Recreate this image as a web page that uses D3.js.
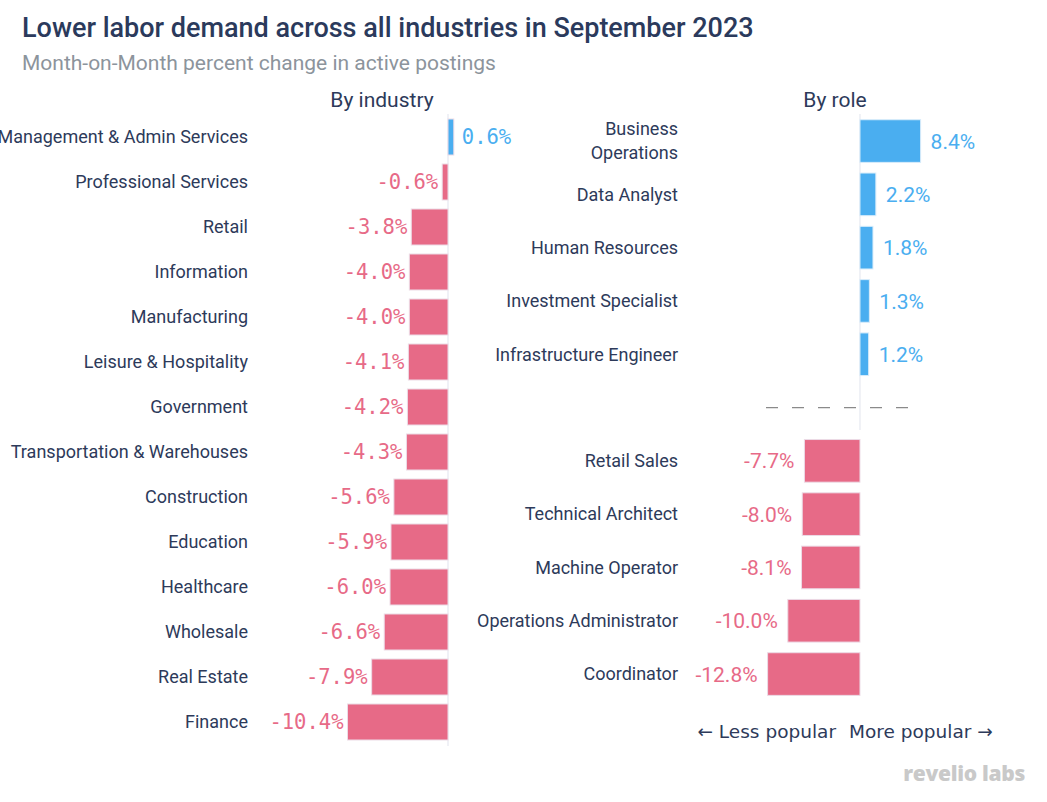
<!DOCTYPE html>
<html><head><meta charset="utf-8">
<script src="https://cdn.jsdelivr.net/npm/d3@7"></script>
<style>
html,body{margin:0;padding:0;background:#fff;}
svg{display:block;}
</style></head>
<body>
<svg id="chart" width="1047" height="802"></svg>
<script>
const industries = ["Management & Admin Services","Professional Services","Retail","Information","Manufacturing","Leisure & Hospitality","Government","Transportation & Warehouses","Construction","Education","Healthcare","Wholesale","Real Estate","Finance"];
const industryValues = [0.6,-0.6,-3.8,-4.0,-4.0,-4.1,-4.2,-4.3,-5.6,-5.9,-6.0,-6.6,-7.9,-10.4];
const roles = ["Business Operations","Data Analyst","Human Resources","Investment Specialist","Infrastructure Engineer","","Retail Sales","Technical Architect","Machine Operator","Operations Administrator","Coordinator"];
const roleValues = [8.4,2.2,1.8,1.3,1.2,null,-7.7,-8.0,-8.1,-10.0,-12.8];
const roleLabelLines = [["Business","Operations"]];

const BLUE = "#4aaef0", PINK = "#e76a87", DARK = "#2d3a5a";
const svg = d3.select("#chart");

svg.append("text").attr("x",22).attr("y",37).text("Lower labor demand across all industries in September 2023")
  .attr("font-family","Roboto").attr("font-weight",500).attr("font-size",27).attr("fill","#2b3a5c");
svg.append("text").attr("x",22).attr("y",69.5).text("Month-on-Month percent change in active postings")
  .attr("font-family","Roboto").attr("font-size",21).attr("fill","#8c949c");

// ---------- Left panel ----------
const xL = d3.scaleLinear().domain([-10.4,0.6]).range([347.5,453.8]);
const yL = d3.scaleBand().domain(industries).range([114.5,744.5]).paddingInner(0.2).paddingOuter(0.1);
const gL = svg.append("g");
gL.append("text").attr("x",382).attr("y",107).attr("text-anchor","middle").text("By industry")
  .attr("font-family","Roboto").attr("font-size",21).attr("fill",DARK);
gL.append("line").attr("x1",xL(0)).attr("x2",xL(0)).attr("y1",114).attr("y2",746)
  .attr("stroke","#e6e8f0").attr("stroke-width",1.2);
const lData = industries.map((d,i)=>({name:d,v:industryValues[i]}));
gL.selectAll("rect.bar").data(lData).join("rect").attr("class","bar")
  .attr("x",d=>xL(Math.min(0,d.v))).attr("width",d=>Math.abs(xL(d.v)-xL(0)))
  .attr("y",d=>yL(d.name)).attr("height",yL.bandwidth())
  .attr("fill",d=>d.v>=0?BLUE:PINK).attr("stroke","#ecdbe6").attr("stroke-width",1);
gL.selectAll("text.lab").data(lData).join("text").attr("class","lab")
  .attr("x",248).attr("y",d=>yL(d.name)+yL.bandwidth()/2).attr("dy","0.35em")
  .attr("text-anchor","end").text(d=>d.name)
  .attr("font-family","Roboto").attr("font-size",18).attr("fill",DARK);
gL.selectAll("text.val").data(lData).join("text").attr("class","val")
  .attr("x",d=>d.v>=0?xL(d.v)+8:xL(d.v)-4)
  .attr("y",d=>yL(d.name)+yL.bandwidth()/2).attr("dy","0.36em")
  .attr("text-anchor",d=>d.v>=0?"start":"end")
  .text(d=>d.v.toFixed(1)+"%")
  .attr("font-family","DejaVu Sans Mono").attr("font-size",20.5).attr("fill",d=>d.v>=0?BLUE:PINK);

// ---------- Right panel ----------
const xR = d3.scaleLinear().domain([-12.8,8.4]).range([767.6,920.6]);
const yR = d3.scaleBand().domain(d3.range(roles.length)).range([114.4,700.7]).paddingInner(0.2).paddingOuter(0.1);
const gR = svg.append("g");
gR.append("text").attr("x",835).attr("y",107).attr("text-anchor","middle").text("By role")
  .attr("font-family","Roboto").attr("font-size",21).attr("fill",DARK);
gR.append("line").attr("x1",xR(0)).attr("x2",xR(0)).attr("y1",114).attr("y2",430)
  .attr("stroke","#e6e8f0").attr("stroke-width",1.2);
const gapIdx = roleValues.indexOf(null);
gR.append("line").attr("x1",766).attr("x2",916)
  .attr("y1",yR(gapIdx)+yR.bandwidth()/2).attr("y2",yR(gapIdx)+yR.bandwidth()/2)
  .attr("stroke","#8a8a8a").attr("stroke-width",1.3).attr("stroke-dasharray","12,14");
const rData = roles.map((d,i)=>({i,name:d,v:roleValues[i]})).filter(d=>d.v!==null);
gR.selectAll("rect.bar").data(rData).join("rect").attr("class","bar")
  .attr("x",d=>xR(Math.min(0,d.v))).attr("width",d=>Math.abs(xR(d.v)-xR(0)))
  .attr("y",d=>yR(d.i)).attr("height",yR.bandwidth())
  .attr("fill",d=>d.v>=0?BLUE:PINK).attr("stroke",d=>d.v>=0?"#d8ecfa":"#ecdbe6").attr("stroke-width",1);
const rl = gR.selectAll("text.lab").data(rData).join("text").attr("class","lab")
  .attr("x",678).attr("y",d=>yR(d.i)+yR.bandwidth()/2)
  .attr("text-anchor","end").attr("font-family","Roboto").attr("font-size",18).attr("fill",DARK);
rl.each(function(d){
  const t = d3.select(this);
  const lines = d.name==="Business Operations" ? roleLabelLines[0] : [d.name];
  const n = lines.length;
  lines.forEach((ln,k)=>{
    t.append("tspan").attr("x",678).attr("dy", k===0 ? (0.35 - (n-1)*0.67)+"em" : "1.34em").text(ln);
  });
});
gR.selectAll("text.val").data(rData).join("text").attr("class","val")
  .attr("x",d=>d.v>=0?xR(d.v)+10:xR(d.v)-10)
  .attr("y",d=>yR(d.i)+yR.bandwidth()/2).attr("dy","0.36em")
  .attr("text-anchor",d=>d.v>=0?"start":"end")
  .text(d=>d.v.toFixed(1)+"%")
  .attr("font-family","Roboto").attr("font-size",21).attr("fill",d=>d.v>=0?BLUE:PINK);

svg.append("text").attr("x",836).attr("y",738).attr("text-anchor","end").text("\u2190 Less popular")
  .attr("font-family","DejaVu Sans").attr("font-size",18.5).attr("fill",DARK);
svg.append("text").attr("x",849).attr("y",738).attr("text-anchor","start").text("More popular \u2192")
  .attr("font-family","DejaVu Sans").attr("font-size",18.5).attr("fill",DARK);

svg.append("text").attr("x",1025).attr("y",781).attr("text-anchor","end").text("revelio labs")
  .attr("font-family","Open Sans").attr("font-weight",800).attr("font-size",21).attr("fill","#c9c9c9").attr("letter-spacing",-0.3);
</script>
</body></html>
